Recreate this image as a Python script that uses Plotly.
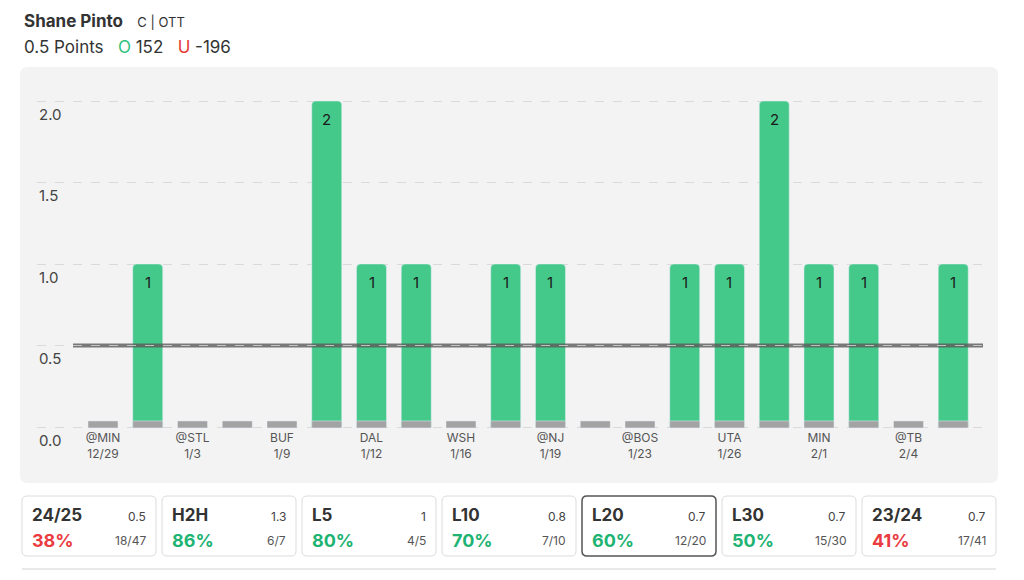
import plotly.graph_objects as go

# game log (last 20)
points = [0, 1, 0, 0, 0, 2, 1, 1, 0, 1, 1, 0, 0, 1, 1, 2, 1, 1, 0, 1]
opponents = ["@MIN", "", "@STL", "", "BUF", "", "DAL", "", "WSH", "",
             "@NJ", "", "@BOS", "", "UTA", "", "MIN", "", "@TB", ""]
dates = ["12/29", "", "1/3", "", "1/9", "", "1/12", "", "1/16", "",
         "1/19", "", "1/23", "", "1/26", "", "2/1", "", "2/4", ""]
line_value = 0.5
y_ticks = [0.0, 0.5, 1.0, 1.5, 2.0]

# summary cards
card_names = ["24/25", "H2H", "L5", "L10", "L20", "L30", "23/24"]
card_avgs = ["0.5", "1.3", "1", "0.8", "0.7", "0.7", "0.7"]
card_pcts = [38, 86, 80, 70, 60, 50, 41]
card_hits = ["18/47", "6/7", "4/5", "7/10", "12/20", "15/30", "17/41"]
selected_card = "L20"

FONT = "Inter"
GREEN = "#45c98b"
GREEN_TXT = "#1db372"
RED = "#ea3b40"
GRAY = "#a3a3a3"

# page has an 8px body margin, so screen coords are shifted by OFF
OFF = 8
W, H = 1024 - OFF, 580 - OFF
L, R, T, B = 37, 39, 80, 151          # plot box in screen px
PW = 1024 - L - R
PH = 580 - T - B


def px(x):
    return (x - L) / PW


def py(y):
    return (580 - B - y) / PH


def rrect(x0, y0, x1, y1, r):
    # rounded rectangle path in paper coords, from screen pixel box
    pts = [
        f"M{px(x0 + r)},{py(y0)}",
        f"L{px(x1 - r)},{py(y0)}",
        f"Q{px(x1)},{py(y0)} {px(x1)},{py(y0 + r)}",
        f"L{px(x1)},{py(y1 - r)}",
        f"Q{px(x1)},{py(y1)} {px(x1 - r)},{py(y1)}",
        f"L{px(x0 + r)},{py(y1)}",
        f"Q{px(x0)},{py(y1)} {px(x0)},{py(y1 - r)}",
        f"L{px(x0)},{py(y0 + r)}",
        f"Q{px(x0)},{py(y0)} {px(x0 + r)},{py(y0)}",
        "Z",
    ]
    return " ".join(pts)


n = len(points)
xs = list(range(n))

fig = go.Figure()
fig.add_trace(go.Bar(
    x=xs, y=points,
    marker=dict(color=GREEN, cornerradius=4),
    width=0.67,
    hoverinfo="skip",
))
fig.add_trace(go.Bar(
    x=xs, y=[0.043] * n, base=-0.006,
    marker=dict(color=GRAY),
    width=0.67,
    hoverinfo="skip",
))

shapes = []
# chart panel
shapes.append(dict(type="path", xref="paper", yref="paper", layer="below",
                   path=rrect(20, 67, 998, 483, 8),
                   fillcolor="#f3f3f3", line=dict(width=0)))
# prop line
shapes.append(dict(type="line", xref="paper", yref="y", layer="above",
                   x0=px(73), x1=px(983), y0=line_value, y1=line_value,
                   line=dict(color="rgba(90,90,90,0.8)", width=4)))
shapes.append(dict(type="line", xref="paper", yref="y", layer="above",
                   x0=px(73), x1=px(983), y0=line_value, y1=line_value,
                   line=dict(color="rgba(215,215,215,0.8)", width=1.2, dash="dash")))

annotations = []
# bar value labels
for i, p in enumerate(points):
    if p > 0:
        annotations.append(dict(x=i, y=p, yshift=-18, showarrow=False,
                                text=str(p), yanchor="middle",
                                font=dict(family=FONT, size=15, color="#1a1a1a")))
# header
annotations.append(dict(xref="paper", yref="paper", x=px(22), y=py(21),
                        xanchor="left", yanchor="middle", showarrow=False,
                        text="<b>Shane Pinto</b>   <span style='font-size:13px'>C | OTT</span>",
                        font=dict(family=FONT, size=17, color="#333")))
annotations.append(dict(xref="paper", yref="paper", x=px(22), y=py(47),
                        xanchor="left", yanchor="middle", showarrow=False,
                        text="0.5 Points   <span style='color:#2ec27e'>O</span> 152   "
                             "<span style='color:#e53935'>U</span> -196",
                        font=dict(family=FONT, size=17, color="#333")))
# y tick labels, sitting under the gridlines
for v in y_ticks:
    annotations.append(dict(xref="paper", yref="y", x=0, y=v, yshift=-13,
                            xanchor="left", yanchor="middle", showarrow=False,
                            text=f"{v:.1f}",
                            font=dict(family=FONT, size=15, color="#444")))

# cards
for i, name in enumerate(card_names):
    x0 = 22 + i * 140
    x1 = x0 + 134
    sel = name == selected_card
    shapes.append(dict(type="path", xref="paper", yref="paper",
                       path=rrect(x0, 496, x1, 556, 5),
                       fillcolor="white",
                       line=dict(color="#555" if sel else "#dcdcdc", width=1.5 if sel else 1)))
    pct_col = GREEN_TXT if card_pcts[i] >= 50 else RED
    annotations += [
        dict(xref="paper", yref="paper", x=px(x0 + 8), y=py(515),
             xanchor="left", yanchor="middle", showarrow=False,
             text=f"<b>{name}</b>", font=dict(family=FONT, size=17, color="#333")),
        dict(xref="paper", yref="paper", x=px(x1 - 8), y=py(516),
             xanchor="right", yanchor="middle", showarrow=False,
             text=card_avgs[i], font=dict(family=FONT, size=12, color="#444")),
        dict(xref="paper", yref="paper", x=px(x0 + 8), y=py(540),
             xanchor="left", yanchor="middle", showarrow=False,
             text=f"<b>{card_pcts[i]}%</b>", font=dict(family=FONT, size=18, color=pct_col)),
        dict(xref="paper", yref="paper", x=px(x1 - 8), y=py(540),
             xanchor="right", yanchor="middle", showarrow=False,
             text=card_hits[i], font=dict(family=FONT, size=12, color="#555")),
    ]
shapes.append(dict(type="line", xref="paper", yref="paper",
                   x0=px(22), x1=px(996), y0=py(569), y1=py(569),
                   line=dict(color="#e2e2e2", width=1.5)))

tick_idx = [i for i in xs if opponents[i]]
fig.update_layout(
    width=W, height=H,
    margin=dict(l=L - OFF, r=R, t=T - OFF, b=B),
    paper_bgcolor="white", plot_bgcolor="rgba(0,0,0,0)",
    barmode="overlay", showlegend=False,
    font=dict(family=FONT),
    xaxis=dict(range=[-1.475, 19.71], tickvals=tick_idx,
               ticktext=[f"{opponents[i]}<br>{dates[i]}" for i in tick_idx],
               tickfont=dict(family=FONT, size=12, color="#555"),
               showgrid=False, zeroline=False, showline=False, ticks=""),
    yaxis=dict(range=[-0.0123, 2.129], tickvals=y_ticks, showticklabels=False,
               gridcolor="#dadada", griddash="dash", gridwidth=1.2,
               zeroline=False, showline=False),
    shapes=shapes, annotations=annotations,
)

fig.write_html("out.html")
